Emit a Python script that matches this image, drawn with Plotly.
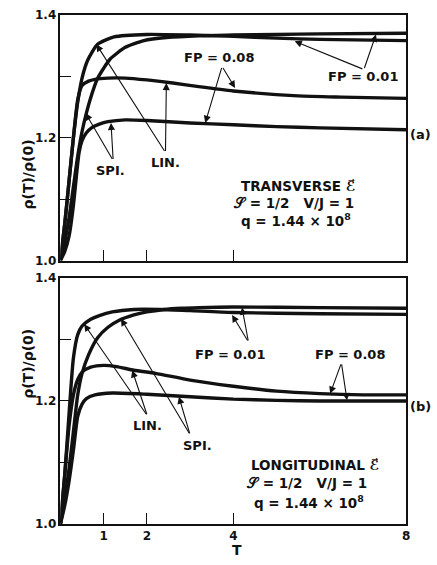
import plotly.graph_objects as go

# ---------------- data ----------------
# panel (a): transverse field
T_a_lin01 = [0, 0.1, 0.2, 0.3, 0.4, 0.5, 0.63, 0.86, 1.24, 2.0, 3.0, 4.0, 5.0, 6.0, 8.0]
V_a_lin01 = [1.0, 1.06, 1.13, 1.20, 1.258, 1.297, 1.326, 1.352, 1.364, 1.368, 1.367, 1.365, 1.362, 1.360, 1.358]

T_a_spi01 = [0, 0.1, 0.2, 0.3, 0.4, 0.5, 0.6, 0.7, 0.85, 1.0, 1.15, 1.5, 1.93, 2.45, 3.2, 4.0, 5.0, 6.0, 8.0]
V_a_spi01 = [1.0, 1.03, 1.07, 1.12, 1.17, 1.21, 1.24, 1.265, 1.295, 1.313, 1.328, 1.347, 1.358, 1.363, 1.366, 1.367, 1.368, 1.369, 1.370]

T_a_lin08 = [0, 0.1, 0.2, 0.3, 0.4, 0.5, 0.65, 0.8, 1.1, 1.5, 2.0, 2.6, 3.2, 4.0, 5.5, 6.5, 8.0]
V_a_lin08 = [1.0, 1.06, 1.13, 1.20, 1.262, 1.285, 1.292, 1.295, 1.297, 1.297, 1.294, 1.289, 1.283, 1.276, 1.268, 1.266, 1.264]

T_a_spi08 = [0, 0.1, 0.2, 0.3, 0.38, 0.43, 0.5, 0.6, 0.72, 0.9, 1.1, 1.5, 2.0, 3.0, 4.0, 5.0, 6.0, 8.0]
V_a_spi08 = [1.0, 1.015, 1.04, 1.09, 1.145, 1.175, 1.195, 1.208, 1.216, 1.222, 1.226, 1.229, 1.228, 1.224, 1.221, 1.218, 1.216, 1.213]

# panel (b): longitudinal field
T_b_lin01 = [0, 0.1, 0.2, 0.3, 0.4, 0.5, 0.7, 0.9, 1.2, 1.7, 2.3, 3.0, 4.0, 6.0, 8.0]
V_b_lin01 = [1.0, 1.08, 1.18, 1.27, 1.308, 1.322, 1.333, 1.339, 1.345, 1.349, 1.349, 1.347, 1.344, 1.342, 1.341]

T_b_spi01 = [0, 0.1, 0.2, 0.3, 0.4, 0.5, 0.65, 0.86, 1.1, 1.35, 1.7, 2.0, 2.4, 2.8, 3.2, 4.0, 6.0, 8.0]
V_b_spi01 = [1.0, 1.04, 1.09, 1.15, 1.21, 1.245, 1.275, 1.303, 1.32, 1.331, 1.34, 1.345, 1.349, 1.351, 1.352, 1.353, 1.352, 1.351]

T_b_lin08 = [0, 0.1, 0.2, 0.3, 0.4, 0.5, 0.7, 1.0, 1.3, 1.7, 2.2, 3.0, 4.0, 5.0, 6.0, 7.0, 8.0]
V_b_lin08 = [1.0, 1.08, 1.16, 1.21, 1.235, 1.247, 1.255, 1.258, 1.256, 1.25, 1.245, 1.234, 1.224, 1.216, 1.212, 1.21, 1.21]

T_b_spi08 = [0, 0.1, 0.2, 0.3, 0.4, 0.5, 0.6, 0.8, 1.2, 2.0, 3.0, 4.0, 5.0, 6.0, 8.0]
V_b_spi08 = [1.0, 1.03, 1.07, 1.12, 1.175, 1.195, 1.204, 1.21, 1.213, 1.211, 1.207, 1.203, 1.201, 1.2, 1.2]

x_tickvals = [1, 2, 4, 8]
x_ticktext = ["1", "2", "4", "8"]
y_tickvals = [1.0, 1.1, 1.2, 1.3, 1.4]
y_ticktext = ["1.0", "", "1.2", "", "1.4"]

FONT = "DejaVu Sans"
INK = "#111111"

fig = go.Figure()

def curve(T, V, xa, ya):
    fig.add_trace(go.Scatter(x=T, y=V, mode="lines", xaxis=xa, yaxis=ya,
                             line=dict(color=INK, width=3.4, shape="spline", smoothing=0.6),
                             showlegend=False, hoverinfo="skip"))

curve(T_a_lin01, V_a_lin01, "x", "y")
curve(T_a_spi01, V_a_spi01, "x", "y")
curve(T_a_lin08, V_a_lin08, "x", "y")
curve(T_a_spi08, V_a_spi08, "x", "y")
curve(T_b_lin01, V_b_lin01, "x2", "y2")
curve(T_b_spi01, V_b_spi01, "x2", "y2")
curve(T_b_lin08, V_b_lin08, "x2", "y2")
curve(T_b_spi08, V_b_spi08, "x2", "y2")

W, H = 437, 565
xdom = [61 / W, 410 / W]
ydom_a = [1 - 260 / H, 1 - 8 / H]
ydom_b = [1 - 530 / H, 1 - 278 / H]

axis_common = dict(showline=True, mirror=True, linecolor=INK, linewidth=1.6,
                   ticks="inside", ticklen=11, tickwidth=1.4, tickcolor=INK,
                   showgrid=False, zeroline=False,
                   tickfont=dict(family=FONT, size=12, color=INK, weight="bold"))

fig.update_layout(
    width=W, height=H, margin=dict(l=0, r=0, t=0, b=0),
    paper_bgcolor="white", plot_bgcolor="white",
    xaxis=dict(domain=xdom, anchor="y", range=[0, 8], tickvals=[1, 2, 4],
               showticklabels=False, **axis_common),
    yaxis=dict(domain=ydom_a, anchor="x", range=[1.0, 1.4], tickvals=y_tickvals,
               ticktext=y_ticktext, **axis_common),
    xaxis2=dict(domain=xdom, anchor="y2", range=[0, 8], tickvals=x_tickvals,
                ticktext=x_ticktext, **axis_common),
    yaxis2=dict(domain=ydom_b, anchor="x2", range=[1.0, 1.4], tickvals=y_tickvals,
                ticktext=y_ticktext, **axis_common),
)

ann = []

def label(text, x, y, xr, yr, size=13, xanchor="center"):
    ann.append(dict(text=text, x=x, y=y, xref=xr, yref=yr, showarrow=False,
                    xanchor=xanchor, yanchor="middle",
                    font=dict(family=FONT, size=size, color=INK, weight="bold")))

def arrow(tail, head, xr, yr):
    ann.append(dict(text="", x=head[0], y=head[1], ax=tail[0], ay=tail[1],
                    xref=xr, yref=yr, axref=xr, ayref=yr, showarrow=True,
                    arrowhead=2, arrowsize=1.3, arrowwidth=1.1, arrowcolor=INK,
                    standoff=0, startstandoff=0))

# ---- panel (a) ----
label("FP = 0.08", 3.67, 1.330, "x", "y")
arrow((3.74, 1.316), (4.04, 1.281), "x", "y")
arrow((3.74, 1.316), (3.35, 1.224), "x", "y")
label("FP = 0.01", 7.0, 1.299, "x", "y")
arrow((7.02, 1.311), (5.42, 1.357), "x", "y")
arrow((7.02, 1.311), (7.30, 1.368), "x", "y")
label("LIN.", 2.43, 1.160, "x", "y")
arrow((2.43, 1.176), (0.83, 1.352), "x", "y")
arrow((2.43, 1.176), (2.45, 1.289), "x", "y")
label("SPI.", 1.15, 1.147, "x", "y")
arrow((1.22, 1.163), (0.58, 1.240), "x", "y")
arrow((1.22, 1.163), (1.17, 1.224), "x", "y")
label("TRANSVERSE ℰ\u20d7", 5.5, 1.122, "x", "y", size=13.5)
label("𝒮 = 1/2   V/J = 1", 5.4, 1.094, "x", "y", size=13.5)
label("q = 1.44 × 10<sup>8</sup>", 5.45, 1.066, "x", "y", size=13.5)

# ---- panel (b) ----
label("FP = 0.01", 3.93, 1.276, "x2", "y2")
arrow((4.35, 1.296), (3.97, 1.340), "x2", "y2")
arrow((4.35, 1.296), (4.20, 1.352), "x2", "y2")
label("FP = 0.08", 6.70, 1.276, "x2", "y2")
arrow((6.50, 1.262), (6.24, 1.212), "x2", "y2")
arrow((6.50, 1.262), (6.63, 1.201), "x2", "y2")
label("LIN.", 2.01, 1.160, "x2", "y2")
arrow((2.01, 1.176), (0.55, 1.325), "x2", "y2")
arrow((2.01, 1.176), (1.66, 1.250), "x2", "y2")
label("SPI.", 3.16, 1.128, "x2", "y2")
arrow((3.0, 1.145), (1.40, 1.334), "x2", "y2")
arrow((3.0, 1.145), (2.74, 1.207), "x2", "y2")
label("LONGITUDINAL ℰ\u20d7", 5.9, 1.096, "x2", "y2", size=13.5)
label("𝒮 = 1/2   V/J = 1", 5.7, 1.066, "x2", "y2", size=13.5)
label("q = 1.44 × 10<sup>8</sup>", 5.75, 1.036, "x2", "y2", size=13.5)

# panel tags and axis titles
label("(a)", 424 / W, 1 - 131 / H, "paper", "paper", size=13)
label("(b)", 424 / W, 1 - 410 / H, "paper", "paper", size=13)
label("T", 239 / W, 1 - 557 / H, "paper", "paper", size=14)
for yc in (1 - 134 / H, 1 - 404 / H):
    ann.append(dict(text="ρ(T)/ρ(0)", x=18 / W, y=yc, xref="paper", yref="paper",
                    showarrow=False, textangle=-90,
                    font=dict(family=FONT, size=14, color=INK, weight="bold")))

fig.update_layout(annotations=ann)
fig.write_html(
    "out.html",
    config={"displayModeBar": False},
    post_script="document.body.style.margin='0';document.body.style.overflow='hidden';",
)
